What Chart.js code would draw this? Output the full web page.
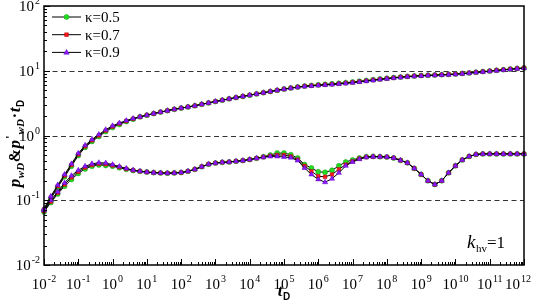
<!DOCTYPE html>
<html>
<head>
<meta charset="utf-8">
<script src="https://cdn.jsdelivr.net/npm/chart.js@4.4.1/dist/chart.umd.min.js"></script>
<style>
  body { margin: 0; background: #fff; }
  canvas { display: block; }
</style>
</head>
<body>
<canvas id="grafico" width="533" height="300"></canvas>
<script>
// tempo adimensional (5 pontos por década)
const tD = [
  1e-2, 1.58e-2, 2.51e-2, 3.98e-2, 6.31e-2,
  1e-1, 1.58e-1, 2.51e-1, 3.98e-1, 6.31e-1,
  1e0, 1.58e0, 2.51e0, 3.98e0, 6.31e0,
  1e1, 1.58e1, 2.51e1, 3.98e1, 6.31e1,
  1e2, 1.58e2, 2.51e2, 3.98e2, 6.31e2,
  1e3, 1.58e3, 2.51e3, 3.98e3, 6.31e3,
  1e4, 1.58e4, 2.51e4, 3.98e4, 6.31e4,
  1e5, 1.58e5, 2.51e5, 3.98e5, 6.31e5,
  1e6, 1.58e6, 2.51e6, 3.98e6, 6.31e6,
  1e7, 1.58e7, 2.51e7, 3.98e7, 6.31e7,
  1e8, 1.58e8, 2.51e8, 3.98e8, 6.31e8,
  1e9, 1.58e9, 2.51e9, 3.98e9, 6.31e9,
  1e10, 1.58e10, 2.51e10, 3.98e10, 6.31e10,
  1e11, 1.58e11, 2.51e11, 3.98e11, 6.31e11,
  1e12
];

const kappaLabels = ['κ=0.5', 'κ=0.7', 'κ=0.9'];

// pressão adimensional pwD
const pwD_05 = [
  0.070, 0.105, 0.158, 0.23, 0.335, 0.49, 0.655, 0.81, 0.965, 1.15,
  1.33, 1.48, 1.64, 1.79, 1.94, 2.06, 2.18, 2.30, 2.42, 2.54,
  2.65, 2.76, 2.88, 3.03, 3.19, 3.35, 3.51, 3.68, 3.85, 4.02,
  4.20, 4.39, 4.58, 4.78, 4.99, 5.21, 5.43, 5.63, 5.80, 5.94,
  6.06, 6.17, 6.28, 6.41, 6.55, 6.71, 6.89, 7.08, 7.27, 7.46,
  7.65, 7.84, 8.01, 8.17, 8.31, 8.43, 8.53, 8.61, 8.69, 8.79,
  8.92, 9.08, 9.27, 9.48, 9.70, 9.92, 10.15, 10.38, 10.61, 10.84,
  11.07
];
const pwD_07 = [
  0.072, 0.11, 0.165, 0.24, 0.35, 0.51, 0.68, 0.84, 1.00, 1.19,
  1.37, 1.52, 1.67, 1.81, 1.94, 2.06, 2.18, 2.30, 2.42, 2.54,
  2.65, 2.76, 2.88, 3.03, 3.19, 3.35, 3.51, 3.68, 3.85, 4.02,
  4.20, 4.39, 4.58, 4.78, 4.99, 5.20, 5.41, 5.60, 5.76, 5.89,
  6.00, 6.10, 6.20, 6.32, 6.46, 6.62, 6.80, 6.99, 7.19, 7.39,
  7.59, 7.79, 7.97, 8.14, 8.29, 8.41, 8.51, 8.59, 8.67, 8.77,
  8.90, 9.06, 9.25, 9.46, 9.68, 9.90, 10.13, 10.36, 10.59, 10.82,
  11.05
];
const pwD_09 = [
  0.074, 0.115, 0.172, 0.25, 0.365, 0.53, 0.705, 0.87, 1.035, 1.23,
  1.41, 1.56, 1.70, 1.83, 1.95, 2.06, 2.18, 2.30, 2.42, 2.54,
  2.65, 2.76, 2.88, 3.03, 3.19, 3.35, 3.51, 3.68, 3.85, 4.02,
  4.20, 4.39, 4.58, 4.78, 4.98, 5.18, 5.38, 5.56, 5.71, 5.83,
  5.93, 6.02, 6.11, 6.23, 6.37, 6.53, 6.71, 6.90, 7.10, 7.30,
  7.50, 7.70, 7.88, 8.05, 8.20, 8.32, 8.42, 8.50, 8.58, 8.68,
  8.81, 8.97, 9.16, 9.37, 9.59, 9.81, 10.04, 10.27, 10.50, 10.73,
  10.96
];

// derivada p'wD·tD
const dpwD_05 = [
  0.066, 0.092, 0.125, 0.165, 0.21, 0.26, 0.305, 0.335, 0.35, 0.345,
  0.335, 0.318, 0.30, 0.288, 0.28, 0.272, 0.267, 0.264, 0.262, 0.264,
  0.268, 0.28, 0.30, 0.33, 0.36, 0.375, 0.385, 0.39, 0.40, 0.41,
  0.425, 0.445, 0.47, 0.50, 0.535, 0.535, 0.505, 0.45, 0.355, 0.315,
  0.275, 0.27, 0.29, 0.34, 0.39, 0.42, 0.45, 0.47, 0.475, 0.47,
  0.465, 0.45, 0.413, 0.378, 0.31, 0.25, 0.20, 0.175, 0.20, 0.265,
  0.34, 0.42, 0.475, 0.51, 0.52, 0.52, 0.52, 0.52, 0.52, 0.52,
  0.52
];
const dpwD_07 = [
  0.068, 0.095, 0.13, 0.175, 0.225, 0.275, 0.32, 0.35, 0.365, 0.36,
  0.345, 0.325, 0.305, 0.29, 0.28, 0.272, 0.267, 0.264, 0.262, 0.264,
  0.268, 0.28, 0.30, 0.33, 0.36, 0.375, 0.385, 0.39, 0.40, 0.41,
  0.425, 0.445, 0.465, 0.485, 0.50, 0.50, 0.475, 0.425, 0.34, 0.28,
  0.235, 0.23, 0.25, 0.30, 0.355, 0.40, 0.44, 0.465, 0.47, 0.47,
  0.465, 0.45, 0.413, 0.378, 0.31, 0.25, 0.20, 0.175, 0.20, 0.265,
  0.34, 0.42, 0.475, 0.51, 0.52, 0.52, 0.52, 0.52, 0.52, 0.52,
  0.52
];
const dpwD_09 = [
  0.070, 0.10, 0.135, 0.185, 0.24, 0.29, 0.335, 0.365, 0.38, 0.375,
  0.355, 0.332, 0.31, 0.292, 0.28, 0.272, 0.267, 0.264, 0.262, 0.264,
  0.268, 0.28, 0.30, 0.33, 0.36, 0.375, 0.385, 0.39, 0.40, 0.41,
  0.425, 0.445, 0.46, 0.475, 0.475, 0.466, 0.455, 0.41, 0.315, 0.25,
  0.21, 0.19, 0.215, 0.265, 0.34, 0.39, 0.43, 0.46, 0.47, 0.47,
  0.465, 0.45, 0.413, 0.378, 0.31, 0.25, 0.20, 0.175, 0.20, 0.265,
  0.34, 0.42, 0.475, 0.51, 0.52, 0.52, 0.52, 0.52, 0.52, 0.52,
  0.52
];

const xTickExp = [-2, -1, 0, 1, 2, 3, 4, 5, 6, 7, 8, 9, 10, 11, 12];
const yTickExp = [-2, -1, 0, 1, 2];
const dashedLevels = [0.1, 1, 10];

const SERIF = "'Liberation Serif', 'Times New Roman', serif";

const estilos = [
  { cor: '#22dd22', borda: '#139913', ponto: 'circle', raio: 2.5, ordem: 2 },
  { cor: '#ff1a1a', borda: '#b00000', ponto: 'rect', raio: 2.5, ordem: 1 },
  { cor: '#8a1aff', borda: '#5a00c0', ponto: 'triangle', raio: 3, ordem: 0 }
];

function serie(ys, est) {
  return {
    data: tD.map((t, i) => ({ x: t, y: ys[i] })),
    borderColor: '#000',
    borderWidth: 1,
    pointStyle: est.ponto,
    pointRadius: est.raio,
    pointBackgroundColor: est.cor,
    pointBorderColor: est.borda,
    pointBorderWidth: 0.5,
    tension: 0,
    clip: 6,
    order: est.ordem
  };
}

const pressoes = [pwD_05, pwD_07, pwD_09];
const derivadas = [dpwD_05, dpwD_07, dpwD_09];
const datasets = [];
for (let k = 0; k < 3; k++) {
  datasets.push(serie(pressoes[k], estilos[k]));
  datasets.push(serie(derivadas[k], estilos[k]));
}

// texto com sobrescrito 10^n
function potencia(ctx, x, y, exp, align) {
  const base = '10', sup = String(exp);
  ctx.font = '15px ' + SERIF;
  const wb = ctx.measureText(base).width;
  ctx.font = '10px ' + SERIF;
  const ws = ctx.measureText(sup).width;
  let x0 = align === 'right' ? x - wb - ws - 1 : x - (wb + ws + 1) / 2;
  x0 = Math.min(x0, 531 - wb - ws - 1);
  ctx.textAlign = 'left';
  ctx.textBaseline = 'alphabetic';
  ctx.font = '15px ' + SERIF;
  ctx.fillText(base, x0, y);
  ctx.font = '10px ' + SERIF;
  ctx.fillText(sup, x0 + wb + 1, y - 7);
}

function pedacos(ctx, partes, x, y) {
  let cx = x;
  partes.forEach(p => {
    ctx.font = p.f;
    ctx.fillText(p.t, cx, y + (p.dy || 0));
    cx += ctx.measureText(p.t).width + (p.gap || 0);
  });
  return cx - x;
}

function larguraPedacos(ctx, partes) {
  let w = 0;
  partes.forEach(p => { ctx.font = p.f; w += ctx.measureText(p.t).width + (p.gap || 0); });
  return w;
}

function marcador(ctx, est, x, y) {
  ctx.fillStyle = est.cor;
  ctx.strokeStyle = est.borda;
  ctx.lineWidth = 0.5;
  ctx.beginPath();
  const r = est.raio;
  if (est.ponto === 'circle') {
    ctx.arc(x, y, r, 0, Math.PI * 2);
  } else if (est.ponto === 'rect') {
    ctx.rect(x - r * 0.75, y - r * 0.75, r * 1.5, r * 1.5);
  } else {
    ctx.moveTo(x, y - r);
    ctx.lineTo(x + r * 0.9, y + r * 0.6);
    ctx.lineTo(x - r * 0.9, y + r * 0.6);
    ctx.closePath();
  }
  ctx.fill();
  ctx.stroke();
}

const eixosPlugin = {
  id: 'eixos',
  beforeDatasetsDraw(chart) {
    const { ctx, chartArea: a, scales } = chart;
    ctx.save();
    ctx.strokeStyle = '#333';
    ctx.lineWidth = 1;
    ctx.setLineDash([5, 3.5]);
    dashedLevels.forEach(v => {
      const y = Math.round(scales.y.getPixelForValue(v)) + 0.5;
      ctx.beginPath();
      ctx.moveTo(a.left, y);
      ctx.lineTo(a.right, y);
      ctx.stroke();
    });
    ctx.restore();
  },
  afterDraw(chart) {
    const { ctx, chartArea: a, scales } = chart;
    ctx.save();
    ctx.fillStyle = '#000';
    ctx.strokeStyle = '#000';

    // moldura
    ctx.lineWidth = 1.5;
    ctx.strokeRect(a.left, a.top, a.right - a.left, a.bottom - a.top);

    // ticks internos
    ctx.lineWidth = 1;
    for (let e = -2; e <= 12; e++) {
      for (let m = 1; m <= 9; m++) {
        const v = m * Math.pow(10, e);
        if (v > 1e12) break;
        const x = Math.round(scales.x.getPixelForValue(v)) + 0.5;
        const len = m === 1 ? 6 : 3;
        ctx.beginPath();
        ctx.moveTo(x, a.bottom);
        ctx.lineTo(x, a.bottom - len);
        ctx.stroke();
      }
    }
    for (let e = -2; e <= 2; e++) {
      for (let m = 1; m <= 9; m++) {
        const v = m * Math.pow(10, e);
        if (v > 100) break;
        const y = Math.round(scales.y.getPixelForValue(v)) + 0.5;
        const len = m === 1 ? 6 : 3;
        ctx.beginPath();
        ctx.moveTo(a.left, y);
        ctx.lineTo(a.left + len, y);
        ctx.stroke();
      }
    }

    // rótulos
    xTickExp.forEach(e => {
      potencia(ctx, scales.x.getPixelForValue(Math.pow(10, e)), a.bottom + 24, e, 'center');
    });
    yTickExp.forEach(e => {
      potencia(ctx, a.left - 4, scales.y.getPixelForValue(Math.pow(10, e)) + 5, e, 'right');
    });

    // título x
    const bi = 'italic bold 17px ' + SERIF;
    const sub = 'bold 10px Arial, "Liberation Sans", sans-serif';
    const tx = [{ t: 't', f: bi, gap: 0.5 }, { t: 'D', f: sub, dy: 4 }];
    const wtx = larguraPedacos(ctx, tx);
    ctx.textAlign = 'left';
    pedacos(ctx, tx, (a.left + a.right) / 2 - wtx / 2, 296);

    // título y
    const subi = 'italic bold 11px ' + SERIF;
    const ty = [
      { t: 'p', f: bi, gap: 0.5 }, { t: 'wD', f: subi, dy: 4, gap: 0.5 },
      { t: '&', f: 'bold 16px ' + SERIF, gap: 0.5 },
      { t: 'p', f: bi, gap: 1 }, { t: "'", f: 'bold 13px ' + SERIF, dy: -6, gap: 1 },
      { t: 'wD', f: subi, dy: 4, gap: 1 },
      { t: '·', f: 'bold 16px ' + SERIF, gap: 0.5 },
      { t: 't', f: bi, gap: 0.5 }, { t: 'D', f: sub, dy: 4 }
    ];
    const wty = larguraPedacos(ctx, ty);
    ctx.save();
    ctx.translate(20, (a.top + a.bottom) / 2 + 8);
    ctx.rotate(-Math.PI / 2);
    pedacos(ctx, ty, -wty / 2, 0);
    ctx.restore();

    // legenda
    ctx.textBaseline = 'middle';
    kappaLabels.forEach((lab, i) => {
      const y = 17 + i * 17.7;
      ctx.strokeStyle = '#000';
      ctx.lineWidth = 1;
      ctx.beginPath();
      ctx.moveTo(52, y);
      ctx.lineTo(81, y);
      ctx.stroke();
      marcador(ctx, estilos[i], 66.5, y);
      ctx.fillStyle = '#000';
      ctx.font = '15px ' + SERIF;
      ctx.fillText(lab, 85, y + 1);
    });

    // k_hv = 1
    ctx.textBaseline = 'alphabetic';
    pedacos(ctx, [
      { t: 'k', f: 'italic 19px ' + SERIF, gap: 0.5 },
      { t: 'hv', f: '11px ' + SERIF, dy: 4 },
      { t: '=1', f: '17px ' + SERIF }
    ], 467, 248);

    ctx.restore();
  }
};

new Chart(document.getElementById('grafico').getContext('2d'), {
  type: 'line',
  data: { datasets: datasets },
  options: {
    responsive: false,
    animation: false,
    devicePixelRatio: 1,
    layout: { padding: { left: 44, right: 9, top: 6, bottom: 35 } },
    plugins: { legend: { display: false }, tooltip: { enabled: false } },
    scales: {
      x: { type: 'logarithmic', min: 1e-2, max: 1e12, display: false },
      y: { type: 'logarithmic', min: 1e-2, max: 1e2, display: false }
    }
  },
  plugins: [eixosPlugin]
});
</script>
</body>
</html>
